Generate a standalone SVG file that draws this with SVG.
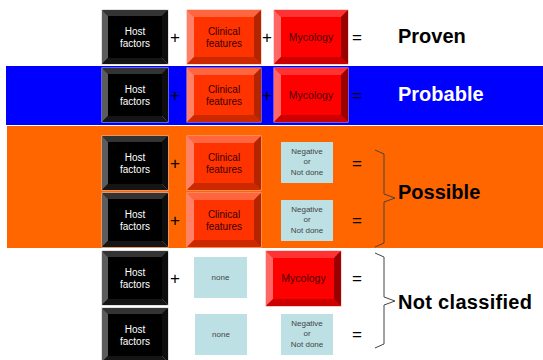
<svg xmlns="http://www.w3.org/2000/svg" xmlns:xlink="http://www.w3.org/1999/xlink" width="543" height="360" viewBox="0 0 543 360">
<style>
.t{font-family:"Liberation Sans",Arial,sans-serif;text-anchor:middle}
.ht{font-size:10px;fill:#fff}
.ct{font-size:10px;fill:#3a0000}
.mt{font-size:10.5px;fill:#4a0000}
.nt{font-size:8px;fill:#444}
.op{font-family:"Liberation Sans",Arial,sans-serif;font-size:17px;fill:#000;text-anchor:middle}
.lab{font-family:"Liberation Sans",Arial,sans-serif;font-size:20px;font-weight:bold}
.lb{fill:#bde0e4}
.br{fill:none;stroke:#444;stroke-width:1}
</style>
<defs>
<symbol id="hostBox" overflow="visible">
<rect x="0" y="0" width="66" height="54" fill="#000" stroke="#c8c8c8" stroke-width="1"/>
<polygon points="0,0 66,0 60,6 6,6" fill="#333"/>
<polygon points="0,0 6,6 6,48 0,54" fill="#5c5c5c"/>
<polygon points="66,0 66,54 60,48 60,6" fill="#0d0d0d"/>
<polygon points="0,54 6,48 60,48 66,54" fill="#151515"/>
<rect x="6" y="6" width="54" height="42" fill="#000"/>
<line x1="60" y1="48" x2="66" y2="54" stroke="#555" stroke-width="0.6"/>
</symbol>
<symbol id="clinBox" overflow="visible">
<rect x="0" y="0" width="74" height="54" fill="#ff3300" stroke="#f0b0a0" stroke-width="1"/>
<polygon points="0,0 74,0 67,7 7,7" fill="#ff6640"/>
<polygon points="0,0 7,7 7,47 0,54" fill="#ff8066"/>
<polygon points="74,0 74,54 67,47 67,7" fill="#b32400"/>
<polygon points="0,54 7,47 67,47 74,54" fill="#cc2900"/>
<rect x="7" y="7" width="60" height="40" fill="#ff3300"/>
</symbol>
<symbol id="mycoBox" overflow="visible">
<rect x="0" y="0" width="74" height="54" fill="#ff0000" stroke="#f0b0b0" stroke-width="1"/>
<polygon points="0,0 74,0 67,7 7,7" fill="#ff3333"/>
<polygon points="0,0 7,7 7,47 0,54" fill="#ff6666"/>
<polygon points="74,0 74,54 67,47 67,7" fill="#990000"/>
<polygon points="0,54 7,47 67,47 74,54" fill="#cc0000"/>
<rect x="7" y="7" width="60" height="40" fill="#ff0000"/>
</symbol>
</defs>

<rect x="6" y="66" width="537" height="59" fill="#0000ff"/>
<rect x="7" y="126" width="536" height="122" fill="#ff6600"/>

<!-- Row 1 -->
<g id="host1" transform="translate(102,10)"><use xlink:href="#hostBox"/><text class="t ht" x="33" y="25">Host</text><text class="t ht" x="33" y="37">factors</text></g>
<g id="clin1" transform="translate(187,10)"><use xlink:href="#clinBox"/><text class="t ct" x="37" y="25">Clinical</text><text class="t ct" x="37" y="37">features</text></g>
<g id="myco1" transform="translate(274,10)"><use xlink:href="#mycoBox"/><text class="t mt" x="37" y="31">Mycology</text></g>
<g id="ops1"><text class="op" x="175" y="43">+</text><text class="op" x="267" y="43">+</text><text class="op" x="357" y="43">=</text></g>
<text id="proven" class="lab" x="398" y="43" fill="#000">Proven</text>

<!-- Row 2 -->
<g id="host2" transform="translate(102,68)"><use xlink:href="#hostBox"/><text class="t ht" x="33" y="25">Host</text><text class="t ht" x="33" y="37">factors</text></g>
<g id="clin2" transform="translate(187,68)"><use xlink:href="#clinBox"/><text class="t ct" x="37" y="25">Clinical</text><text class="t ct" x="37" y="37">features</text></g>
<g id="myco2" transform="translate(274,68)"><use xlink:href="#mycoBox"/><text class="t mt" x="37" y="31">Mycology</text></g>
<g id="ops2"><text class="op" x="175" y="101">+</text><text class="op" x="267" y="101">+</text><text class="op" x="357" y="101">=</text></g>
<text id="probable" class="lab" x="398" y="101" fill="#fff">Probable</text>

<!-- Row 3 -->
<g id="host3" transform="translate(102,136)"><use xlink:href="#hostBox"/><text class="t ht" x="33" y="25">Host</text><text class="t ht" x="33" y="37">factors</text></g>
<g id="clin3" transform="translate(187,136)"><use xlink:href="#clinBox"/><text class="t ct" x="37" y="25">Clinical</text><text class="t ct" x="37" y="37">features</text></g>
<g id="neg3" transform="translate(281,142)"><rect class="lb" width="52" height="41"/><text class="t nt" x="26" y="12">Negative</text><text class="t nt" x="26" y="22">or</text><text class="t nt" x="26" y="33">Not done</text></g>
<g id="ops3"><text class="op" x="175" y="169">+</text><text class="op" x="357" y="169">=</text></g>

<!-- Row 4 -->
<g id="host4" transform="translate(102,193)"><use xlink:href="#hostBox"/><text class="t ht" x="33" y="25">Host</text><text class="t ht" x="33" y="37">factors</text></g>
<g id="clin4" transform="translate(187,193)"><use xlink:href="#clinBox"/><text class="t ct" x="37" y="25">Clinical</text><text class="t ct" x="37" y="37">features</text></g>
<g id="neg4" transform="translate(281,200)"><rect class="lb" width="52" height="41"/><text class="t nt" x="26" y="12">Negative</text><text class="t nt" x="26" y="22">or</text><text class="t nt" x="26" y="33">Not done</text></g>
<g id="ops4"><text class="op" x="175" y="226">+</text><text class="op" x="357" y="226">=</text></g>
<text id="possible" class="lab" x="398" y="199" fill="#000">Possible</text>

<!-- Row 5 -->
<g id="host5" transform="translate(102,251)"><use xlink:href="#hostBox"/><text class="t ht" x="33" y="25">Host</text><text class="t ht" x="33" y="37">factors</text></g>
<g id="none5" transform="translate(194,257)"><rect class="lb" width="53" height="41"/><text class="t nt" x="26.5" y="23">none</text></g>
<g id="myco5" transform="translate(266,251)"><use xlink:href="#mycoBox" transform="scale(1.013,1.02)"/><text class="t mt" x="37.5" y="31">Mycology</text></g>
<g id="ops5"><text class="op" x="175" y="284">+</text><text class="op" x="357" y="284">=</text></g>

<!-- Row 6 -->
<g id="host6" transform="translate(102,308)"><use xlink:href="#hostBox"/><text class="t ht" x="33" y="25">Host</text><text class="t ht" x="33" y="37">factors</text></g>
<g id="none6" transform="translate(195,314)"><rect class="lb" width="52" height="41"/><text class="t nt" x="26" y="23">none</text></g>
<g id="neg6" transform="translate(281,314)"><rect class="lb" width="52" height="41"/><text class="t nt" x="26" y="12">Negative</text><text class="t nt" x="26" y="22">or</text><text class="t nt" x="26" y="33">Not done</text></g>
<g id="ops6"><text class="op" x="357" y="340">=</text></g>
<text id="notclassified" class="lab" x="398" y="309" fill="#000" textLength="134">Not classified</text>

<g id="connectors">
<path class="br" d="M375,150 L384,154 L384,194 L395,198 L384,202 L384,243 L375,247"/>
<path class="br" stroke="#666" d="M375,253 L384,257 L384,297 L395,301 L384,305 L384,344 L375,348"/>
</g>
</svg>
